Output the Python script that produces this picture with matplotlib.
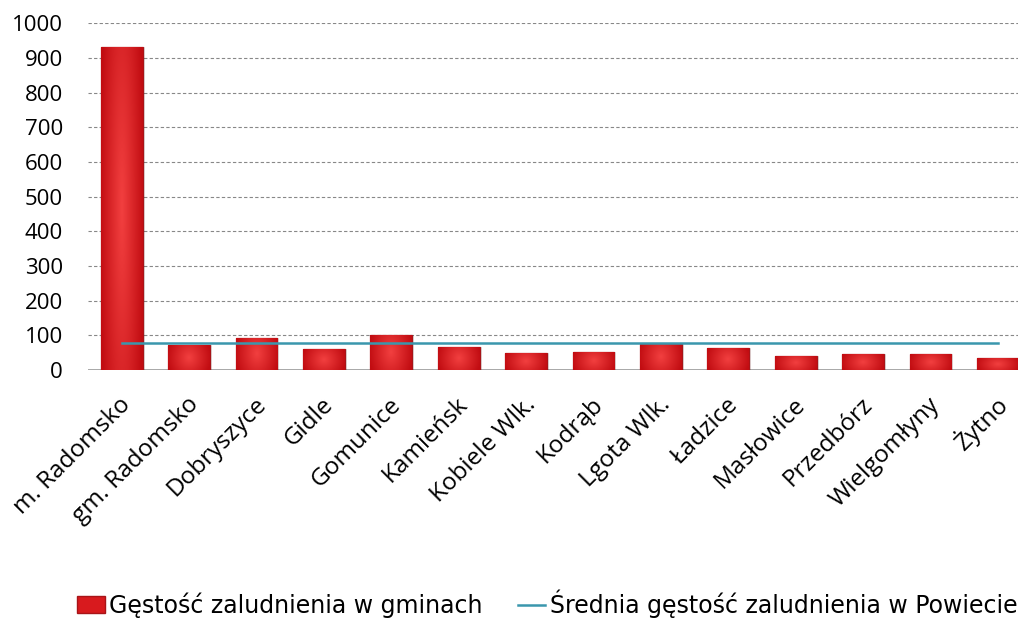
import matplotlib.pyplot as plt
import matplotlib.transforms as mtransforms
import numpy as np
from matplotlib.lines import Line2D
from matplotlib.patches import Rectangle

gminy = ["m. Radomsko", "gm. Radomsko", "Dobryszyce", "Gidle", "Gomunice",
         "Kamieńsk", "Kobiele Wlk.", "Kodrąb", "Lgota Wlk.", "Ładzice",
         "Masłowice", "Przedbórz", "Wielgomłyny", "Żytno"]
gestosc = [931, 72, 93, 60, 101, 67, 49, 52, 75, 63, 42, 46, 46, 34]
srednia = [78] * len(gminy)
y_ticks = [0, 100, 200, 300, 400, 500, 600, 700, 800, 900, 1000]

plt.rcParams["font.family"] = ["Open Sans", "DejaVu Sans"]

fig = plt.figure(figsize=(10.18, 6.19), dpi=100)
ax = fig.add_axes([0.0864, 0.402, 0.927, 0.5606])

x = np.arange(len(gminy))
ax.set_xlim(-0.5, len(gminy) - 0.5)
ax.set_ylim(0, 1000)

# gradient used to fill bars (bright centre, darker edges)
gx = np.linspace(-1, 1, 60)
gy = np.linspace(-1, 1, 60)
GX, GY = np.meshgrid(gx, gy)
dist = np.clip(np.sqrt(GX ** 2 * 0.9 + GY ** 2 * 0.25), 0, 1)
c_in = np.array([0.95, 0.25, 0.25])
c_out = np.array([0.76, 0.05, 0.07])
grad = c_in[None, None, :] * (1 - dist[..., None]) + c_out[None, None, :] * dist[..., None]

bars = ax.bar(x, gestosc, width=0.62, color="#d81a1e", edgecolor="#a81418",
              linewidth=0.9, zorder=3, label="Gęstość zaludnienia w gminach")
for b in bars:
    # soft shadow
    sh = Rectangle((b.get_x() + 0.03, 0), b.get_width(), b.get_height(),
                   facecolor="#000000", alpha=0.12, zorder=2, linewidth=0)
    ax.add_patch(sh)
    im = ax.imshow(grad, extent=[b.get_x(), b.get_x() + b.get_width(), 0, b.get_height()],
                   aspect="auto", zorder=3.5, interpolation="bilinear")
    im.set_clip_path(b)

ax.plot(x, srednia, color="#3a97ad", linewidth=1.8, zorder=4,
        label="Średnia gęstość zaludnienia w Powiecie")

ax.set_yticks(y_ticks)
for t in y_ticks[1:]:
    ax.axhline(t, color="#888888", linewidth=0.8, linestyle=(0, (3, 2)), zorder=1)
ax.axhline(0, color="#999999", linewidth=1.2, zorder=1)

for s in ax.spines.values():
    s.set_visible(False)
ax.tick_params(axis="both", length=0, labelsize=16)
ax.tick_params(axis="y", pad=18)
ax.tick_params(axis="x", pad=0)
ax.set_xticks(x)
ax.set_xticklabels(gminy, rotation=45, ha="right", va="center", rotation_mode="anchor", fontsize=17.5)
offset = mtransforms.ScaledTranslation(0.06, -0.31, fig.dpi_scale_trans)
for lab in ax.get_xticklabels():
    lab.set_transform(lab.get_transform() + offset)

handles = [Rectangle((0, 0), 1, 1, facecolor="#d81a1e", edgecolor="#a81418"),
           Line2D([0], [0], color="#3a97ad", linewidth=1.8)]
fig.legend(handles, ["Gęstość zaludnienia w gminach", "Średnia gęstość zaludnienia w Powiecie"],
           loc="center left", bbox_to_anchor=(0.076, 0.025), ncol=2, frameon=False,
           prop={"family": ["DejaVu Sans"], "size": 17},
           handlelength=1.15, handletextpad=0.2, columnspacing=1.5,
           borderaxespad=0, borderpad=0)

fig.savefig("out.png", dpi=100)
plt.close(fig)
